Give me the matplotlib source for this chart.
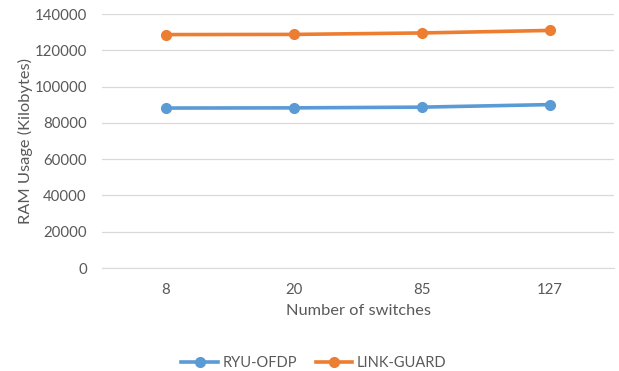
import numpy as np
import matplotlib.pyplot as plt

switches = ["8", "20", "85", "127"]
ryu_ofdp = [88200, 88300, 88700, 90100]
link_guard = [128700, 128800, 129600, 131000]

plt.rcParams['font.family'] = ['Lato', 'DejaVu Sans']
grey = '#595959'

fig = plt.figure(figsize=(6.19, 3.71), dpi=100)
ax = fig.add_axes([0.165, 0.2776, 0.827, 0.6844])

x = np.arange(len(switches))
ax.plot(x, ryu_ofdp, color='#5B9BD5', lw=2.6, marker='o', ms=7, label='RYU-OFDP')
ax.plot(x, link_guard, color='#ED7D31', lw=2.6, marker='o', ms=7, label='LINK-GUARD')

ax.set_xlim(-0.5, len(switches) - 0.5)
ax.set_ylim(0, 140000)
ax.set_yticks(np.arange(0, 140001, 20000))
ax.set_xticks(x)
ax.set_xticklabels(switches)
ax.yaxis.grid(True, color='#D9D9D9', lw=0.9)
ax.set_axisbelow(True)
for side in ['top', 'right', 'left']:
    ax.spines[side].set_visible(False)
ax.spines['bottom'].set_color('#D9D9D9')
ax.tick_params(axis='both', length=0, labelsize=10.8, colors=grey)
ax.tick_params(axis='x', pad=11)
ax.tick_params(axis='y', pad=11)

ax.set_xlabel('Number of switches', fontsize=11.8, color=grey, labelpad=5)
ax.set_ylabel('RAM Usage (Kilobytes)', fontsize=11.8, color=grey, labelpad=1)

fig.legend(loc='center', bbox_to_anchor=(0.507, 0.022), ncol=2, frameon=False,
           fontsize=10.5, labelcolor=grey, handlelength=2.5, columnspacing=1.3,
           handletextpad=0.3)

fig.savefig('out.png', dpi=100)
